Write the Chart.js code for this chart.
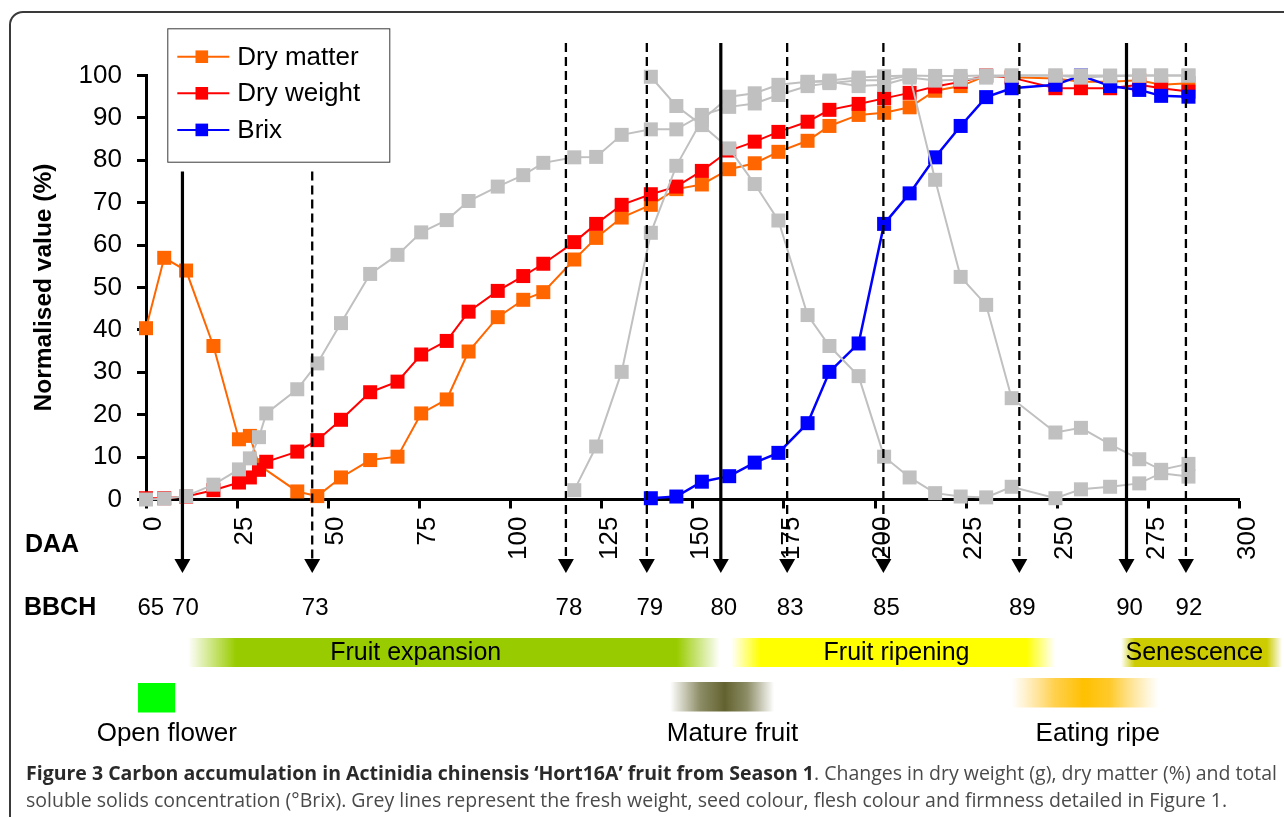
<!DOCTYPE html>
<html>
<head>
<meta charset="utf-8">
<title>Carbon accumulation in Hort16A fruit</title>
<script src="https://cdn.jsdelivr.net/npm/chart.js@4.4.1/dist/chart.umd.min.js"></script>
<style>
  html, body { margin: 0; padding: 0; background: #fff; }
  #wrap { position: relative; width: 1284px; height: 817px; overflow: hidden; }
  #frame { position: absolute; left: 9px; top: 11px; width: 1300px; height: 830px;
           border: 2px solid #3a3a3a; border-radius: 14px; box-sizing: border-box; }
  #c { position: absolute; left: 0; top: 0; }
  .cap { position: absolute; left: 26px; white-space: nowrap; font-family: "Open Sans", "Noto Sans", sans-serif;
         font-size: 17px; line-height: 27px; color: #4a4a4a; }
  .cap b { color: #2a2a2a; font-weight: 700; }
</style>
</head>
<body>
<div id="wrap">
  <div id="frame"></div>
  <canvas id="c" width="1284" height="817"></canvas>
  <div class="cap" id="cap1" style="top:759px"><b>Figure 3 Carbon accumulation in Actinidia chinensis ‘Hort16A’ fruit from Season 1</b>. Changes in dry weight (g), dry matter (%) and total</div>
  <div class="cap" id="cap2" style="top:786px">soluble solids concentration (°Brix). Grey lines represent the fresh weight, seed colour, flesh colour and firmness detailed in Figure 1.</div>
</div>
<script>
// Sampling days (days after anthesis)
const daa = [0, 5, 11, 18.5, 25.5, 28.5, 31, 33, 41.5, 47, 53.5, 61.5, 69, 75.5, 82.5, 88.5, 96.5, 103.5, 109,
  117.5, 123.5, 130.5, 138.5, 145.5, 152.5, 160, 167, 173.5, 181.5, 187.5, 195.5, 202.5, 209.5, 216.5, 223.5,
  230.5, 237.5, 249.5, 256.5, 264.5, 272.5, 278.5, 286];

// Normalised values (%)
const dryMatter = [40.4, 57.0, 54.0, 36.2, 14.2, 15.0, 8.1, null, 1.9, 0.8, 5.2, 9.3, 10.1, 20.3, 23.6, 34.9, 43.0,
  47.1, 48.9, 56.6, 61.7, 66.5, 69.5, 73.2, 74.3, 77.9, 79.3, 82.0, 84.6, 88.1, 90.7, 91.2, 92.5, 96.4, 97.5, 99.9,
  99.6, 99.3, 98.5, 98.5, 98.9, 97.8, 98.2];
const dryWeight = [0.3, 0.3, 0.7, 2.2, 4.0, 5.2, 7.0, 8.9, 11.3, 14.0, 18.8, 25.3, 27.8, 34.2, 37.4, 44.3, 49.2,
  52.7, 55.6, 60.7, 65.0, 69.5, 72.0, 73.8, 77.5, 82.3, 84.4, 86.7, 89.1, 91.9, 93.3, 94.6, 95.9, 97.4, 98.5, 100,
  99.5, 97.0, 97.0, 97.0, 97.8, 97.0, 96.2];
const brix = [null, null, null, null, null, null, null, null, null, null, null, null, null, null, null, null, null,
  null, null, null, null, null, 0.3, 0.7, 4.2, 5.5, 8.7, 11.0, 18.0, 30.1, 36.8, 65.0, 72.2, 80.7, 88.1, 94.9, 97.0,
  97.8, 100, 97.5, 96.6, 95.2, 95.0];
const freshWeight = [0, 0.2, 0.8, 3.5, 7.1, 9.7, 14.7, 20.3, 26.0, 32.1, 41.6, 53.2, 57.7, 63.0, 65.9, 70.4, 73.8,
  76.5, 79.4, 80.7, 80.8, 86.0, 87.3, 87.3, 90.7, 92.6, 93.4, 95.4, 97.5, 98.2, 98.9, 98.9, 100, 99.9, 99.9, 100,
  100, 100, 100, 100, 100, 100, 100];
const seedColour = [null, null, null, null, null, null, null, null, null, null, null, null, null, null, null, null,
  null, null, null, 2.2, 12.5, 30.1, 62.9, 78.7, 89.5, 95.0, 95.8, 97.8, 98.5, 98.5, 97.5, 97.8, 99.5, 98.8, 99.0,
  99.5, 100, 100, 99.5, 99.8, 100, 100, 100];
const fleshColour = [null, null, null, null, null, null, null, null, null, null, null, null, null, null, null, null,
  null, null, null, null, null, null, 99.7, 92.8, 88.3, 82.8, 74.4, 65.8, 43.5, 36.2, 29.1, 10.1, 5.2, 1.5, 0.7,
  0.5, 3.0, 0.3, 2.4, 3.0, 3.8, 6.2, 5.4];
const firmness = [null, null, null, null, null, null, null, null, null, null, null, null, null, null, null, null,
  null, null, null, null, null, null, null, null, null, null, null, null, 98.5, 98.8, 99.5, 99.8, 100, 75.4, 52.5,
  45.9, 23.9, 15.8, 16.9, 13.0, 9.5, 7.0, 8.4];

// Axis ticks
const daaTicks = [0, 25, 50, 75, 100, 125, 150, 175, 200, 225, 250, 275, 300];
const valueTicks = [0, 10, 20, 30, 40, 50, 60, 70, 80, 90, 100];

// BBCH growth stages and the day each was reached
const bbchCodes = ['65', '70', '73', '78', '79', '80', '83', '85', '89', '90', '92'];
const bbchDaa = [0.5, 10, 45.6, 115.2, 137.4, 157.7, 175.9, 202.3, 239.6, 269, 285.3];
const bbchArrow = ['none', 'solid', 'dashed', 'dashed', 'dashed', 'solid', 'dashed', 'dashed', 'dashed', 'solid', 'dashed'];

// Developmental phases (start, full, fade, end in DAA)
const phaseNames = ['Fruit expansion', 'Fruit ripening', 'Senescence'];
const phaseSpans = [[11.5, 24.6, 145.7, 157.5], [160.5, 168.5, 241.5, 249.4], [267.5, 271.3, 307.5, 311.7]];
const phaseLabelAt = [74, 205.9, 287.6];
const phaseColours = ['153,204,0', '255,255,0', '204,204,0'];

// Key events (start, peak, end in DAA)
const eventNames = ['Open flower', 'Mature fruit', 'Eating ripe'];
const eventSpans = [[-2.2, 2.9, 8.0], [143.8, 158.8, 172.3], [237.6, 257.3, 277.9]];
const eventLabelAt = [5.7, 160.9, 261.1];

const FONT = '"Liberation Sans", Arial, Helvetica, sans-serif';
const GREY = '#c0c0c0';

function pts(vals) {
  return daa.map((d, i) => ({ x: d, y: vals[i] })).filter(p => p.y !== null);
}
function series(label, vals, colour, width, order) {
  return {
    label, data: pts(vals), borderColor: colour, backgroundColor: colour,
    borderWidth: width, pointStyle: 'rect', pointRadius: 9.9, pointBorderWidth: 0,
    pointHoverRadius: 9.9, tension: 0, clip: false, order
  };
}

const datasets = [
  series('Dry matter', dryMatter, '#ff6600', 2, 3),
  series('Dry weight', dryWeight, '#ff0000', 2, 2),
  series('Brix', brix, '#0000ff', 2.5, 1),
  series('Fresh weight', freshWeight, GREY, 2, 0),
  series('Seed colour', seedColour, GREY, 2, 0),
  series('Flesh colour', fleshColour, GREY, 2, 0),
  series('Firmness', firmness, GREY, 2, 0)
];
const legendCount = 3;

// Stage arrows, BBCH labels, phase bars, events and the legend box
const phenology = {
  id: 'phenology',
  afterDatasetsDraw(chart) {
    const { ctx, chartArea: ca, scales: { x } } = chart;
    const legendRight = ca.left + 243;
    const legendBottom = ca.top + 86;
    const tip = ca.bottom + 73.5;
    ctx.save();
    bbchDaa.forEach((d, i) => {
      const kind = bbchArrow[i];
      if (kind === 'none') return;
      const px = x.getPixelForValue(d);
      const top = px < legendRight ? legendBottom + 10 : ca.top - 32.5;
      ctx.strokeStyle = '#000';
      ctx.lineWidth = kind === 'solid' ? 3.2 : 2.3;
      ctx.setLineDash(kind === 'solid' ? [] : [9, 5]);
      ctx.beginPath();
      ctx.moveTo(px, top);
      ctx.lineTo(px, tip - 12);
      ctx.stroke();
      ctx.setLineDash([]);
      ctx.fillStyle = '#000';
      ctx.beginPath();
      ctx.moveTo(px - 8, tip - 14);
      ctx.lineTo(px + 8, tip - 14);
      ctx.lineTo(px, tip);
      ctx.closePath();
      ctx.fill();
    });
    ctx.restore();
  },
  afterDraw(chart) {
    const { ctx, chartArea: ca, scales: { x } } = chart;
    ctx.save();
    ctx.fillStyle = '#000';
    ctx.textBaseline = 'middle';

    // Row headings
    ctx.font = 'bold 25px ' + FONT;
    ctx.textAlign = 'left';
    ctx.fillText('DAA', 25, ca.bottom + 46);
    ctx.fillText('BBCH', 24, ca.bottom + 109);

    // BBCH codes
    ctx.font = '24px ' + FONT;
    ctx.textAlign = 'center';
    bbchCodes.forEach((c, i) => {
      ctx.fillText(c, x.getPixelForValue(bbchDaa[i]) + 3, ca.bottom + 109);
    });

    // Phase bars
    const by0 = ca.bottom + 138.5, by1 = ca.bottom + 167.5;
    phaseSpans.forEach((s, i) => {
      const p = s.map(v => x.getPixelForValue(v));
      const w = p[3] - p[0];
      const g = ctx.createLinearGradient(p[0], 0, p[3], 0);
      const c = phaseColours[i];
      g.addColorStop(0, `rgba(${c},0)`);
      g.addColorStop((p[1] - p[0]) / w, `rgba(${c},1)`);
      g.addColorStop((p[2] - p[0]) / w, `rgba(${c},1)`);
      g.addColorStop(1, `rgba(${c},0)`);
      ctx.fillStyle = g;
      ctx.fillRect(p[0], by0, w, by1 - by0);
    });
    ctx.fillStyle = '#000';
    ctx.font = '25px ' + FONT;
    phaseNames.forEach((n, i) => {
      ctx.fillText(n, x.getPixelForValue(phaseLabelAt[i]), (by0 + by1) / 2 + 1);
    });

    // Key events
    const ey = ca.bottom + 234.5;
    {
      const s = eventSpans[0].map(v => x.getPixelForValue(v));
      ctx.fillStyle = '#00ff00';
      ctx.fillRect(s[0], ca.bottom + 183.5, s[2] - s[0], 29.5);
    }
    {
      const s = eventSpans[1].map(v => x.getPixelForValue(v));
      const g = ctx.createLinearGradient(s[0], 0, s[2], 0);
      const f = (s[1] - s[0]) / (s[2] - s[0]);
      g.addColorStop(0, 'rgba(102,102,51,0)');
      g.addColorStop(f * 0.55, 'rgba(102,102,51,0.75)');
      g.addColorStop(f, 'rgba(98,98,48,1)');
      g.addColorStop(f + (1 - f) * 0.45, 'rgba(102,102,51,0.75)');
      g.addColorStop(1, 'rgba(102,102,51,0)');
      ctx.fillStyle = g;
      ctx.fillRect(s[0], ca.bottom + 182.5, s[2] - s[0], 29.5);
    }
    {
      const s = eventSpans[2].map(v => x.getPixelForValue(v));
      const g = ctx.createLinearGradient(s[0], 0, s[2], 0);
      const f = (s[1] - s[0]) / (s[2] - s[0]);
      g.addColorStop(0, 'rgba(255,200,60,0)');
      g.addColorStop(f * 0.6, 'rgba(255,196,30,0.8)');
      g.addColorStop(f, 'rgba(255,192,0,1)');
      g.addColorStop(f + (1 - f) * 0.35, 'rgba(255,196,20,0.9)');
      g.addColorStop(1, 'rgba(255,210,80,0)');
      ctx.fillStyle = g;
      ctx.fillRect(s[0], ca.bottom + 178.5, s[2] - s[0], 29.5);
    }
    ctx.fillStyle = '#000';
    ctx.font = '26px ' + FONT;
    eventNames.forEach((n, i) => ctx.fillText(n, x.getPixelForValue(eventLabelAt[i]), ey));

    // Legend box
    const lx = ca.left + 21.3, ly = ca.top - 47.2, lw = 222, lh = 133.4;
    ctx.fillStyle = '#fff';
    ctx.fillRect(lx, ly, lw, lh);
    ctx.strokeStyle = '#3a3a3a';
    ctx.lineWidth = 1;
    ctx.strokeRect(lx + 0.5, ly + 0.5, lw, lh);
    ctx.textAlign = 'left';
    ctx.font = '26px ' + FONT;
    chart.data.datasets.slice(0, legendCount).forEach((ds, i) => {
      const cy = ly + 28.4 + i * 36.6;
      ctx.strokeStyle = ds.borderColor;
      ctx.lineWidth = 2;
      ctx.beginPath();
      ctx.moveTo(lx + 10, cy);
      ctx.lineTo(lx + 62, cy);
      ctx.stroke();
      ctx.fillStyle = ds.borderColor;
      ctx.fillRect(lx + 34.5 - 6.3, cy - 6.3, 12.6, 12.6);
      ctx.fillStyle = '#000';
      ctx.fillText(ds.label, lx + 70, cy + 1);
    });
    ctx.restore();
  }
};

new Chart(document.getElementById('c'), {
  type: 'line',
  data: { datasets },
  plugins: [phenology],
  options: {
    responsive: false,
    animation: false,
    events: [],
    layout: { padding: { top: 75.5, right: 44.5, left: 10, bottom: 257.5 } },
    plugins: { legend: { display: false }, tooltip: { enabled: false } },
    scales: {
      x: {
        type: 'linear', min: 0, max: 300,
        afterFit: s => { s.height = 60; },
        afterBuildTicks: s => { s.ticks = daaTicks.map(v => ({ value: v })); },
        ticks: { maxRotation: 90, minRotation: 90, padding: 8, labelOffset: 8,
                 color: '#000', font: { family: FONT, size: 26 } },
        grid: { drawOnChartArea: false, drawTicks: true, tickLength: 9, tickWidth: 3, tickColor: '#000' },
        border: { display: true, color: '#000', width: 3 }
      },
      y: {
        type: 'linear', min: 0, max: 100,
        afterFit: s => { s.width = 136; },
        afterBuildTicks: s => { s.ticks = valueTicks.map(v => ({ value: v })); },
        ticks: { padding: 15, color: '#000', font: { family: FONT, size: 26 } },
        grid: { drawOnChartArea: false, drawTicks: true, tickLength: 9, tickWidth: 3, tickColor: '#000' },
        border: { display: true, color: '#000', width: 3 },
        title: { display: true, text: 'Normalised value (%)', color: '#000',
                 font: { family: FONT, size: 24.5, weight: 'bold' }, padding: { top: 20, bottom: 0 } }
      }
    }
  }
});

// Fit the caption to the frame width
(function fitCaption() {
  const c1 = document.getElementById('cap1');
  const c2 = document.getElementById('cap2');
  const w = c1.getBoundingClientRect().width;
  const fs = 17 * 1251 / w;
  c1.style.fontSize = fs + 'px';
  c2.style.fontSize = fs + 'px';
})();
</script>
</body>
</html>
